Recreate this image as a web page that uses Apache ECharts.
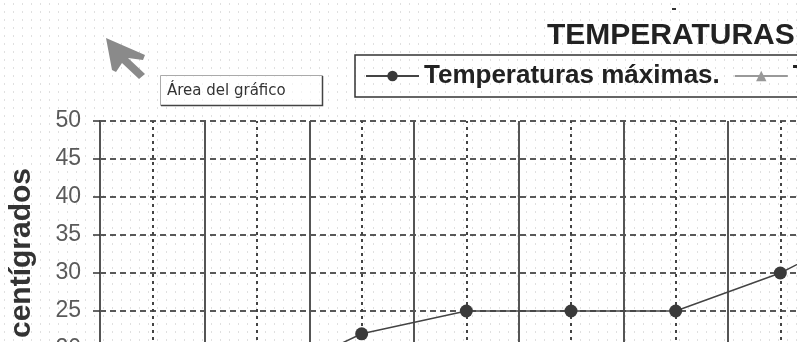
<!DOCTYPE html>
<html>
<head>
<meta charset="utf-8">
<script src="https://cdn.jsdelivr.net/npm/echarts@6/dist/echarts.min.js"></script>
<style>
	html, body { margin: 0; padding: 0; background: #fff; }
	#chart {
		width: 797px;
		height: 342px;
		background-color: #fff;
		background-image: radial-gradient(#e0e0e0 0.6px, transparent 1px);
		background-size: 9px 8px;
	}
</style>
</head>
<body>
<div id="chart"></div>
<script>
	// datos de la hoja
	var meses = ['Enero', 'Febrero', 'Marzo', 'Abril', 'Mayo', 'Junio', 'Julio', 'Agosto', 'Septiembre', 'Octubre', 'Noviembre', 'Diciembre'];
	var maximas = [12, 15.5, 22, 25, 25, 25, 30, 37, 33, 26, 19, 14];
	var minimas = [2, 4, 7, 10, 12, 15, 18, 18, 14, 9, 5, 3];
	var escalaY = { min: 0, max: 50, paso: 5 };

	var fuente = 'Liberation Sans, Arial, sans-serif';

	var chart = echarts.init(document.getElementById('chart'));

	var option = {
		animation: false,
		title: {
			text: 'TEMPERATURAS',
			left: 542,
			top: 16,
			textStyle: { fontFamily: fuente, fontSize: 30, fontWeight: 'bold', color: '#222' }
		},
		legend: {
			left: 355,
			top: 55,
			width: 900,
			padding: [8, 10, 8, 10],
			borderColor: '#333',
			borderWidth: 1.5,
			itemWidth: 53,
			itemHeight: 13,
			itemGap: 14,
			textStyle: { fontFamily: fuente, fontSize: 26, fontWeight: 'bold', color: '#222' },
			data: ['Temperaturas máximas.', 'Temperaturas mínimas.']
		},
		grid: {//el gráfico sigue más allá del recorte
			left: 100,
			top: 121,
			width: 1256,
			height: 380,
			containLabel: false,
			outerBoundsMode: 'none'
		},
		xAxis: {
			type: 'category',
			boundaryGap: true,
			data: meses,
			axisLine: { lineStyle: { color: '#555', width: 2 } },
			axisTick: { show: false, interval: 0 },
			axisLabel: { fontFamily: fuente, fontSize: 18, color: '#555', interval: 0 },
			splitLine: { show: true, interval: 0, lineStyle: { color: '#555', width: 2 } }
		},
		yAxis: {
			type: 'value',
			min: escalaY.min,
			max: escalaY.max,
			interval: escalaY.paso,
			axisLine: { show: true, lineStyle: { color: '#555', width: 2 } },
			axisTick: { show: true, length: 7, lineStyle: { color: '#333', width: 1.5 } },
			axisLabel: { fontFamily: fuente, fontSize: 23, color: '#5a5a5a', margin: 19 },
			splitLine: { show: true, lineStyle: { color: '#222', width: 1.5, type: [6, 4] } }
		},
		series: [{
			name: 'Temperaturas máximas.',
			type: 'line',
			data: maximas,
			color: '#3a3a3a',
			symbol: 'circle',
			symbolSize: 13,
			lineStyle: { color: '#444', width: 1.5 },
			z: 5,
			markLine: {//líneas punteadas en el centro de cada mes
				silent: true,
				symbol: ['none', 'none'],
				label: { show: false },
				lineStyle: { color: '#444', width: 2, type: [3, 4] },
				data: meses.map(function (m) { return { xAxis: m }; })
			}
		}, {
			name: 'Temperaturas mínimas.',
			type: 'line',
			data: minimas,
			color: '#999',
			symbol: 'triangle',
			symbolSize: 13,
			lineStyle: { color: '#999', width: 1.5 },
			z: 4
		}],
		graphic: [
			{ // nombre del eje
				type: 'text',
				x: 22,
				y: 168,
				rotation: Math.PI / 2,
				style: {
					text: 'Grados centígrados',
					font: 'bold 30px ' + fuente,
					fill: '#333',
					textAlign: 'right',
					textVerticalAlign: 'middle'
				}
			},
			{ // puntero del ratón
				type: 'polygon',
				shape: { points: [[106, 38], [145, 55], [143, 60], [128, 58], [145, 74], [139, 79], [122, 63], [116, 72], [112, 70]] },
				style: { fill: '#8a8a8a' }
			},
			{ // globo "Área del gráfico"
				type: 'rect',
				shape: { x: 160.5, y: 75.5, width: 162, height: 30 },
				style: { fill: 'rgba(255,255,255,0.6)', stroke: '#aaa', lineWidth: 1 }
			},
			{
				type: 'polyline',
				shape: { points: [[322.5, 76], [322.5, 105.5], [161, 105.5]] },
				style: { stroke: '#444', lineWidth: 1.5, fill: null }
			},
			{
				type: 'text',
				x: 167,
				y: 91,
				style: {
					text: 'Área del gráfico',
					font: '15px DejaVu Sans, sans-serif',
					fill: '#333',
					textVerticalAlign: 'middle'
				}
			},
			{
				type: 'rect',
				shape: { x: 672, y: 8, width: 4, height: 2 },
				style: { fill: '#333' }
			}
		]
	};

	chart.setOption(option);
</script>
</body>
</html>
